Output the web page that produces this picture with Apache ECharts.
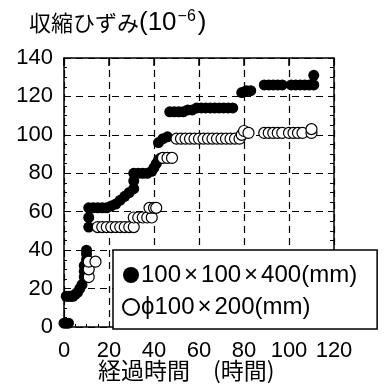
<!DOCTYPE html>
<html><head><meta charset="utf-8">
<script src="https://cdn.jsdelivr.net/npm/echarts@6/dist/echarts.min.js"></script>
<style>html,body{margin:0;padding:0;background:#fff}#c{width:385px;height:391px}</style>
</head><body><div id="c"></div>
<script>
const xTicks = [0, 20, 40, 60, 80, 100, 120];
const yTicks = [0, 20, 40, 60, 80, 100, 120, 140];
const seriesNames = ['100×100×400(mm)', 'ϕ100×200(mm)'];
const prismData = [
 [0,2],[1,2],[2,2],
 [1,16],[2,16],[3,16],[4,16],[5,17],[6,18],[7,20],[8,22],
 [9,26],[9,29],[9,32],[10,35],[10,38],[10,40],
 [11,52],[11,57],
 [11,62],[13,62],[15,62],[17,62],[19,62],[21,63],
 [23,64],[25,66],[27,68],[29,70],
 [31,72],[31,76],[31,80],[33,80],[35,80],[37,80],[39,81],
 [40,83],[41,85],[42,87],[43,88],
 [42,96],[44,98],[46,99],
 [47,112],[49,112],[51,112],[53,112],[55,113],[57,113],[59,114],[61,114],[63,114],[65,114],[67,114],[69,114],[71,114],[73,114],[75,114],
 [79,122],[81,123],[83,123],
 [89,126],[91,126],[93,126],[95,126],[97,126],
 [101,126],[103,126],[105,126],[107,126],[109,126],[111,126],
 [111,131]
];
const cylData = [
 [11,26],[11,30],[11,34],[14,34],
 [15,52],[17,52],[19,52],[21,52],[23,52],[25,52],[27,52],[29,52],[31,52],
 [31,57],[33,57],[35,57],[37,57],[39,57],
 [38,62],[40,62],[41,62],
 [44,88],[46,88],[48,88],
 [50,98],[52,98],[54,98],[56,98],[58,98],[60,98],[62,98],[64,98],[66,98],[68,98],[70,98],[72,98],[74,98],[76,98],[78,98],
 [79,100],[80,102],[82,101],
 [89,101],[91,101],[93,101],[95,101],[97,101],
 [100,101],[102,101],[104,101],[106,101],
 [110,101],[110,103]
];

const chart = echarts.init(document.getElementById('c'), null, {renderer: 'canvas'});
const dash = {type: [7, 5], color: '#000', width: 1.2};
const cjk = '"Noto Sans CJK JP", sans-serif';
const lab = 'Arial, "Liberation Sans", sans-serif';
chart.setOption({
  animation: false,
  backgroundColor: '#fff',
  grid: {left: 64, right: 51, top: 58, bottom: 64, show: false},
  title: {
    left: 24, top: 4,
    text: '収縮ひずみ{n|(10}{s|−6}{n|)}',
    textStyle: {fontFamily: cjk, fontSize: 22, fontWeight: 'normal', color: '#000',
      rich: {
        n: {fontFamily: lab, fontSize: 26, color: '#000'},
        s: {fontFamily: lab, fontSize: 16, verticalAlign: 'top', padding: [0, 2, 12, 1], color: '#000'}
      }}
  },
  graphic: [{
    type: 'text', left: 98, top: 359,
    style: {text: '経過時間　(時間)', font: '23px "Noto Sans CJK JP"', fill: '#000'}
  }],
  legend: {
    orient: 'vertical', left: 113, top: 250,
    backgroundColor: '#fff', borderColor: '#000', borderWidth: 1.5, borderRadius: 0,
    padding: [12, 20, 9, 9], itemGap: 6, itemWidth: 16, itemHeight: 16,
    icon: 'circle',
    formatter: function (name) { return name.replace(/×/g, '{x|×}'); },
    textStyle: {fontFamily: lab, fontSize: 24, lineHeight: 26, color: '#000', padding: [0, 0, 0, -3],
      rich: {x: {fontFamily: lab, fontSize: 24, lineHeight: 26, color: '#000', padding: [0, 3, 0, 3]}}},
    data: seriesNames
  },
  xAxis: [{
    type: 'value', min: 0, max: 120, interval: 20,
    axisLine: {show: true, onZero: false, lineStyle: {color: '#000', width: 1.5}},
    axisTick: {show: true, inside: true, length: 6, lineStyle: {color: '#000'}},
    minorTick: {show: true, splitNumber: 4, length: 3, lineStyle: {color: '#000'}},
    splitLine: {show: true, lineStyle: dash},
    axisLabel: {fontFamily: lab, fontSize: 22, color: '#000', margin: 13,
      customValues: xTicks}
  }, {
    type: 'value', min: 0, max: 120, interval: 20, position: 'top',
    axisLine: {show: true, onZero: false, lineStyle: {color: '#000', width: 1.5}},
    axisTick: {show: true, inside: true, length: 8, lineStyle: {color: '#000', width: 1.5}},
    splitLine: {show: false}, axisLabel: {show: false}
  }],
  yAxis: [{
    type: 'value', min: 0, max: 140, interval: 20,
    axisLine: {show: true, onZero: false, lineStyle: {color: '#000', width: 1.5}},
    axisTick: {show: true, inside: true, length: 5, lineStyle: {color: '#000'}},
    minorTick: {show: true, splitNumber: 4, length: 3, lineStyle: {color: '#000'}},
    splitLine: {show: true, lineStyle: dash},
    axisLabel: {fontFamily: lab, fontSize: 22, color: '#000', margin: 11,
      customValues: yTicks}
  }, {
    type: 'value', min: 0, max: 140, interval: 20, position: 'right',
    axisLine: {show: true, onZero: false, lineStyle: {color: '#000', width: 1.5}},
    axisTick: {show: true, inside: true, length: 6, lineStyle: {color: '#000'}},
    minorTick: {show: true, splitNumber: 4, length: 4, lineStyle: {color: '#000'}},
    splitLine: {show: false}, axisLabel: {show: false}
  }],
  series: [{
    name: seriesNames[0], type: 'scatter', data: prismData,
    symbol: 'circle', symbolSize: 11,
    itemStyle: {color: '#000', borderColor: '#000', borderWidth: 0, opacity: 1}
  }, {
    name: seriesNames[1], type: 'scatter', data: cylData,
    symbol: 'circle', symbolSize: 11,
    itemStyle: {color: '#fff', borderColor: '#000', borderWidth: 1.2, opacity: 1}
  }]
});
</script></body></html>
